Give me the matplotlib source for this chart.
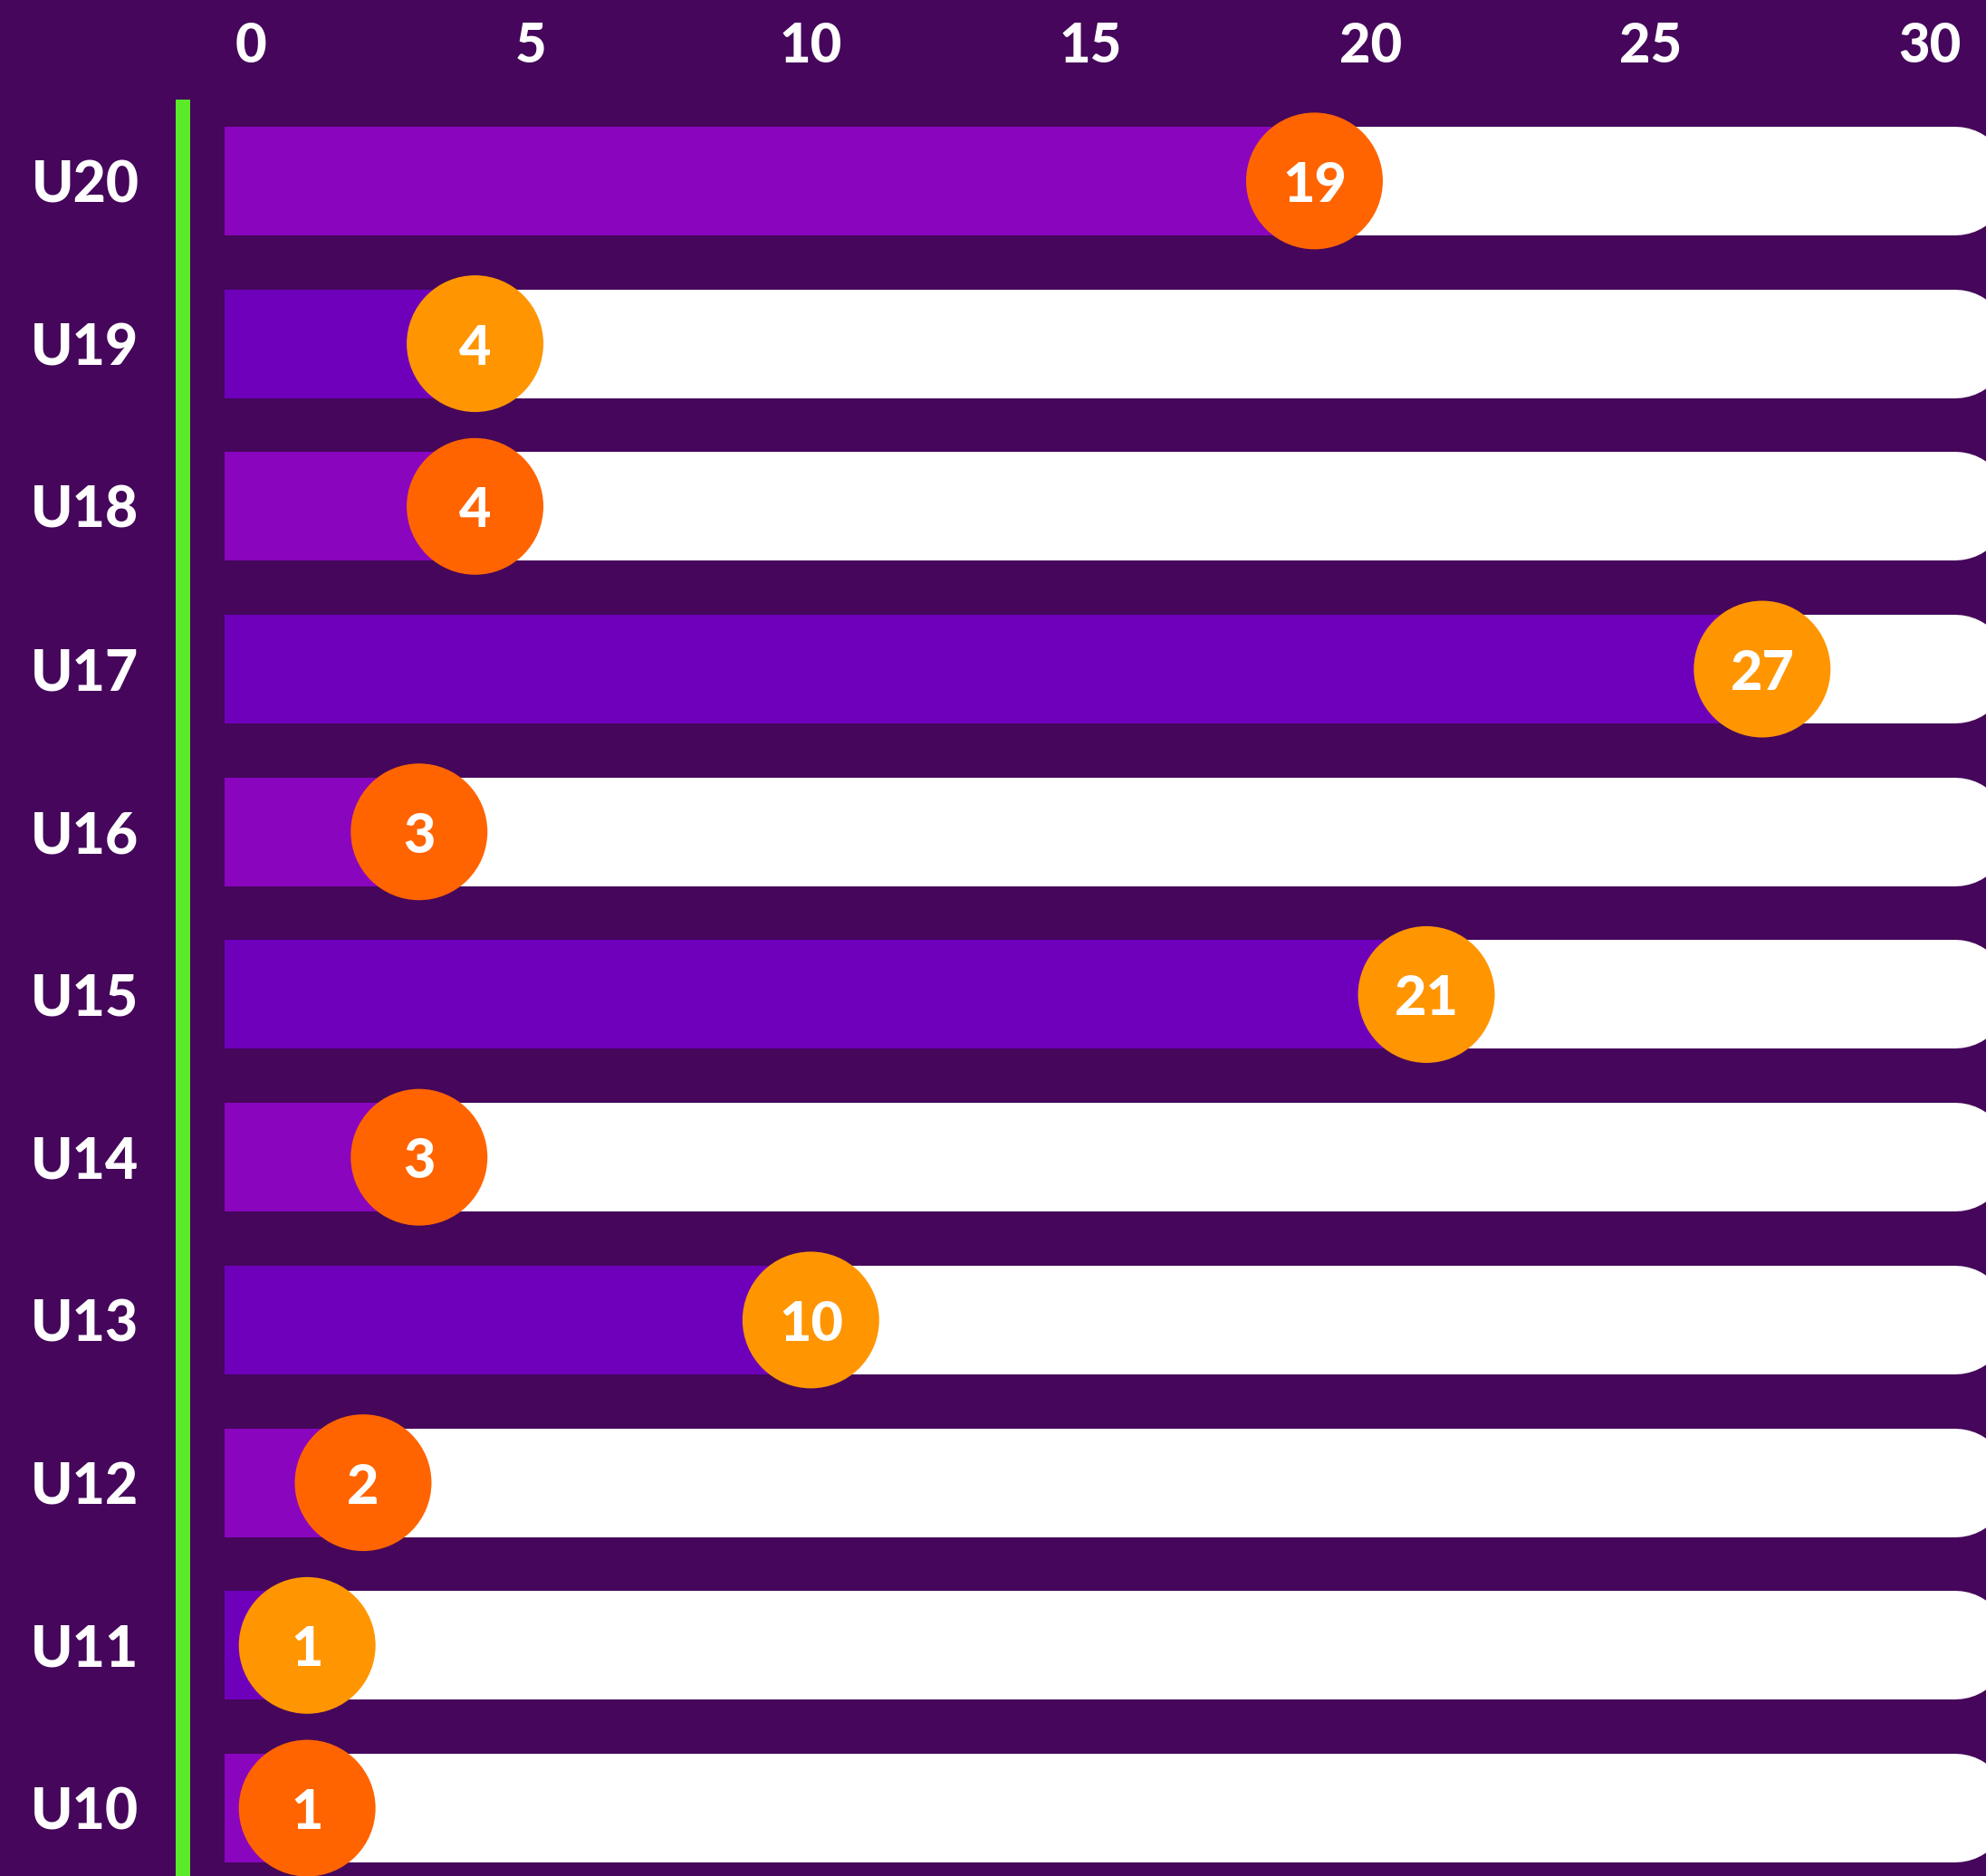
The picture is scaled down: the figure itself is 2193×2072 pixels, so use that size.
import matplotlib.pyplot as plt

# Age groups, top to bottom, and the value shown in each circle
groups = ['U20', 'U19', 'U18', 'U17', 'U16', 'U15', 'U14', 'U13', 'U12', 'U11', 'U10']
values = [19, 4, 4, 27, 3, 21, 3, 10, 2, 1, 1]
x_ticks = [0, 5, 10, 15, 20, 25, 30]

# Colours alternate row by row
bar_colors = ['#8a05be', '#6e00bc']
dot_colors = ['#ff6400', '#ff9500']
bg = '#45065b'
green = '#5aea2a'

plt.rcParams['font.family'] = ['Lato', 'DejaVu Sans']
plt.rcParams['font.weight'] = 900

fig = plt.figure(figsize=(21.93, 20.72), dpi=100, facecolor=bg)
ax = fig.add_axes([202 / 2193, 0, 1 - 202 / 2193, (2072 - 110) / 2072])
ax.set_facecolor(bg)

bar_start = -0.47
bar_end = 30.45
bar_h = 0.668

for i in range(len(groups)):
    v = values[i]
    # purple part up to the value (runs a little under the circle)
    ax.barh(i, v + 1.5 - bar_start, left=bar_start, height=bar_h,
            color=bar_colors[i % 2], zorder=1)
    # white remainder with a round end on the right
    ax.hlines(i, v, bar_end, colors='white', linewidth=86.4,
              capstyle='round', zorder=2)
    # circle marker with the number
    ax.scatter(v, i, s=108.7 ** 2, color=dot_colors[i % 2],
               edgecolors='none', zorder=3)
    ax.text(v, i, str(v), color='white', fontsize=44, fontweight=900,
            ha='center', va='center_baseline', zorder=4)

ax.set_xlim(-1.22, 31.0)
ax.set_ylim(10.417, -0.5)

ax.xaxis.tick_top()
ax.set_xticks(x_ticks)
ax.set_xticklabels([str(t) for t in x_ticks])
ax.tick_params(axis='x', length=0, pad=22, labelsize=43, labelcolor='white')

ax.set_yticks(range(len(groups)))
ax.set_yticklabels(groups)
ax.tick_params(axis='y', length=0, pad=35, labelsize=45, labelcolor='white')

for s in ['top', 'right', 'bottom']:
    ax.spines[s].set_visible(False)
ax.spines['left'].set_color(green)
ax.spines['left'].set_linewidth(11.5)
ax.spines['left'].set_capstyle('butt')

fig.savefig('out.png', dpi=100, facecolor=bg)
